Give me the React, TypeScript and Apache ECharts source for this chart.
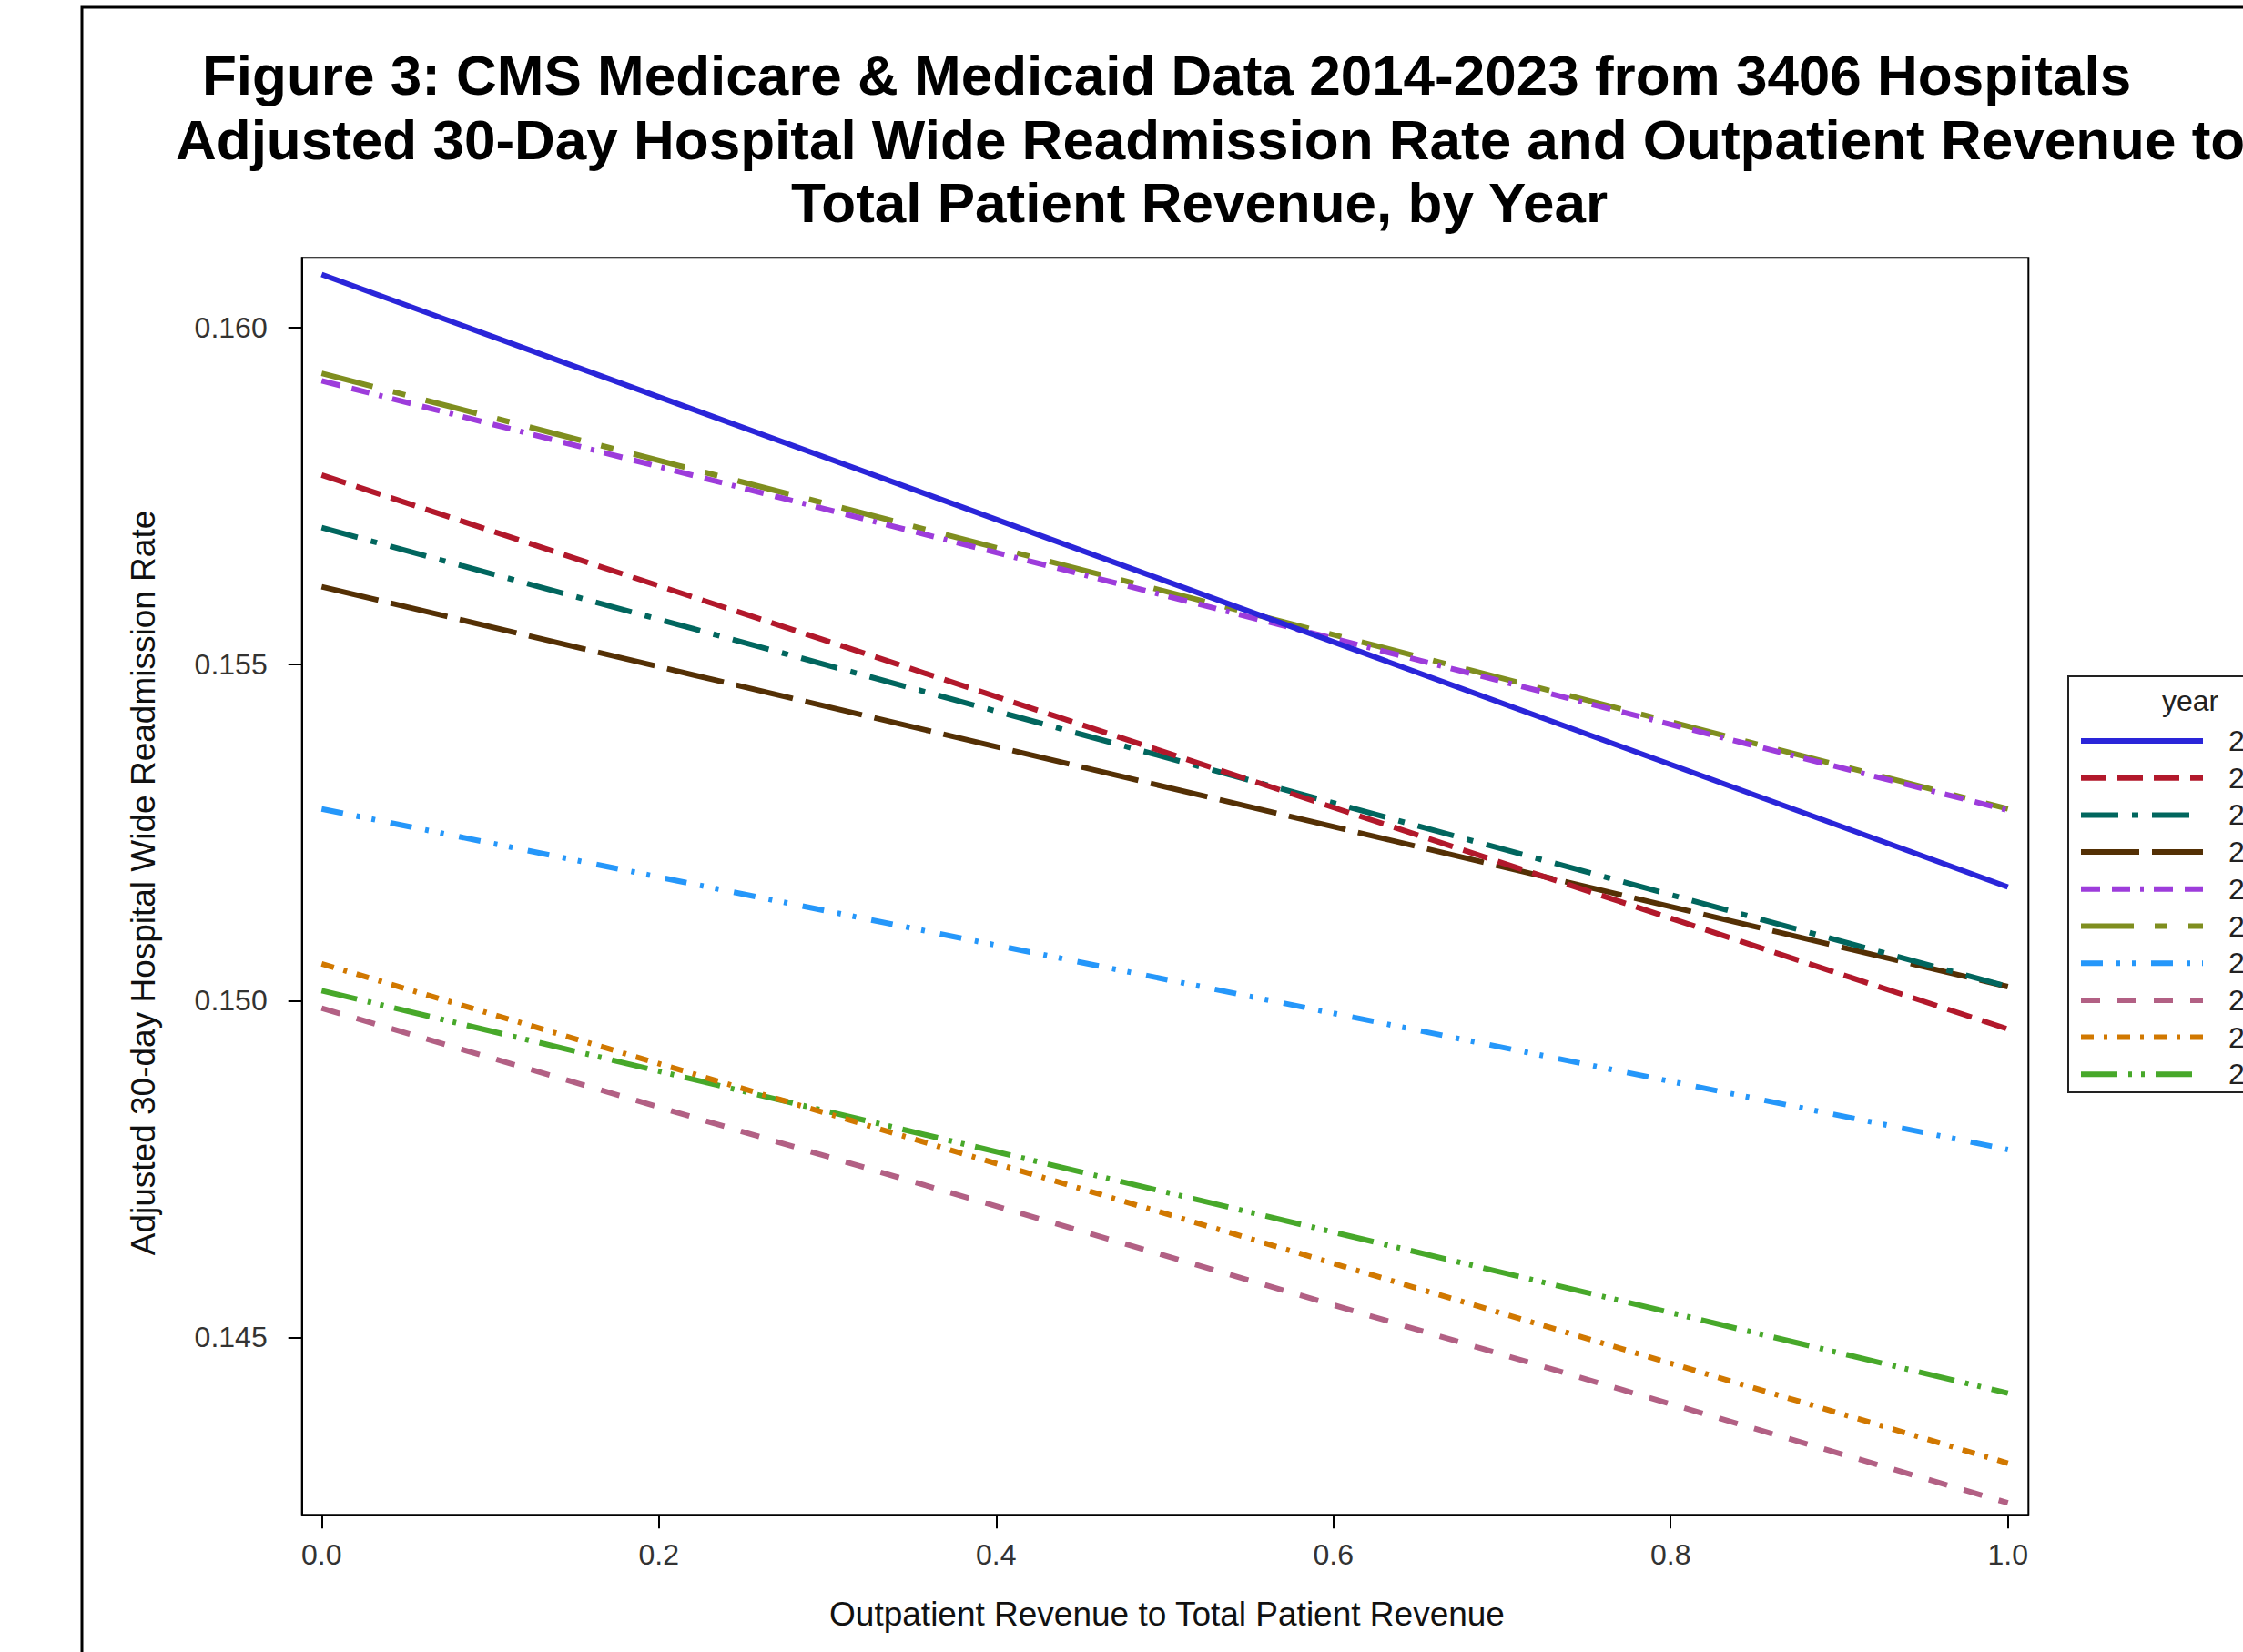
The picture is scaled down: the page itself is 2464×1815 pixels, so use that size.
import React, { useEffect, useRef } from "react";
import * as echarts from "echarts";

const years = ["2014", "2015", "2016", "2017", "2018", "2019", "2020", "2021", "2022", "2023"];
const xValues = [0, 1];
const rateAtZero = [0.16079, 0.15781, 0.15703, 0.15615, 0.15921, 0.15932, 0.15285, 0.14989, 0.15055, 0.15015];
const rateAtOne = [0.15169, 0.14958, 0.15021, 0.15021, 0.15283, 0.15285, 0.14779, 0.14254, 0.14313, 0.14417];
const colors = ["#2A25D9", "#B2182B", "#01665E", "#543005", "#9D3CDB", "#7F8E1F", "#2597FA", "#B26084", "#D17800", "#47A82A"];
const dashes: (number[] | null)[] = [
  null,
  [28, 12],
  [41, 15, 7, 15],
  [64, 14],
  [21, 13, 20, 11, 4, 11],
  [58, 23, 14, 23],
  [24, 15, 4, 13, 4, 17],
  [21, 19],
  [14, 11, 4, 11],
  [40, 12, 4, 10, 4, 12],
];
const xTicks = [0, 0.2, 0.4, 0.6, 0.8, 1.0];
const yTicks = [0.145, 0.15, 0.155, 0.16];

const titleLines = [
  "Figure 3: CMS Medicare & Medicaid Data 2014-2023 from 3406 Hospitals",
  "Adjusted 30-Day Hospital Wide Readmission Rate and Outpatient Revenue to",
  "Total Patient Revenue, by Year",
];
const xTitle = "Outpatient Revenue to Total Patient Revenue";
const yTitle = "Adjusted 30-day Hospital Wide Readmission Rate";
const legendTitle = "year";

const FONT = "'Liberation Sans', Arial, sans-serif";

export default function App() {
  const ref = useRef<HTMLDivElement>(null);
  useEffect(() => {
    if (!ref.current) return;
    const chart = echarts.init(ref.current, null, { renderer: "svg" });

    const series = years.map((y, i) => ({
      name: y,
      type: "line",
      data: xValues.map((x, k) => [x, k === 0 ? rateAtZero[i] : rateAtOne[i]]),
      symbol: "none",
      showSymbol: false,
      z: 10 - i,
      lineStyle: {
        color: colors[i],
        width: 6,
        type: dashes[i] ? dashes[i] : "solid",
        cap: "butt",
      },
      emphasis: { disabled: true },
    }));

    const titleX = [222, 193, 869];
    const titleY = [82, 153, 222];
    const graphics: any[] = [
      {
        type: "rect",
        shape: { x: 90, y: 8, width: 2600, height: 2000 },
        style: { fill: "none", stroke: "#000", lineWidth: 3 },
        silent: true,
      },
      ...titleLines.map((t, i) => ({
        type: "text",
        x: titleX[i],
        y: titleY[i],
        style: {
          text: t,
          font: `bold 62px ${FONT}`,
          fill: "#000",
          textAlign: "left",
          textVerticalAlign: "middle",
        },
      })),
      {
        type: "text",
        x: 1282,
        y: 1773,
        style: { text: xTitle, font: `37px ${FONT}`, fill: "#111", textAlign: "center", textVerticalAlign: "middle" },
      },
      {
        type: "text",
        x: 157,
        y: 970,
        rotation: Math.PI / 2,
        style: { text: yTitle, font: `37px ${FONT}`, fill: "#111", textAlign: "center", textVerticalAlign: "middle" },
      },
      {
        type: "rect",
        shape: { x: 2272, y: 743, width: 400, height: 457 },
        style: { fill: "#fff", stroke: "#222", lineWidth: 2 },
        z: 20,
      },
      {
        type: "text",
        x: 2406,
        y: 770,
        z: 21,
        style: { text: legendTitle, font: `32px ${FONT}`, fill: "#222", textAlign: "center", textVerticalAlign: "middle" },
      },
    ];
    years.forEach((y, i) => {
      const yy = 814 + 40.7 * i;
      graphics.push({
        type: "line",
        z: 21,
        shape: { x1: 2286, y1: yy, x2: 2420, y2: yy },
        style: { stroke: colors[i], lineWidth: 6, lineDash: dashes[i] || undefined },
      });
      graphics.push({
        type: "text",
        z: 21,
        x: 2448,
        y: yy,
        style: { text: y, font: `32px ${FONT}`, fill: "#222", textAlign: "left", textVerticalAlign: "middle" },
      });
    });

    chart.setOption({
      animation: false,
      backgroundColor: "#fff",
      grid: {
        left: 331.7,
        top: 283.3,
        width: 1896.6,
        height: 1381,
        show: true,
        borderColor: "#000",
        borderWidth: 2,
        containLabel: false,
      },
      xAxis: {
        type: "value",
        min: -0.01166,
        max: 1.0122,
        splitLine: { show: false },
        axisLine: { show: true, onZero: false, lineStyle: { color: "#000", width: 2 } },
        axisTick: { show: true, length: 15, lineStyle: { color: "#000", width: 2 }, customValues: xTicks },
        axisLabel: {
          customValues: xTicks,
          formatter: (v: number) => v.toFixed(1),
          margin: 28,
          fontSize: 32,
          fontFamily: FONT,
          color: "#333",
        },
      },
      yAxis: {
        type: "value",
        min: 0.142363,
        max: 0.161036,
        splitLine: { show: false },
        axisLine: { show: true, onZero: false, lineStyle: { color: "#000", width: 2 } },
        axisTick: { show: true, length: 15, lineStyle: { color: "#000", width: 2 }, customValues: yTicks },
        axisLabel: {
          customValues: yTicks,
          formatter: (v: number) => v.toFixed(3),
          margin: 38,
          fontSize: 32,
          fontFamily: FONT,
          color: "#333",
        },
      },
      series,
      graphic: graphics,
    });
    return () => chart.dispose();
  }, []);
  return (
    <div
      ref={ref}
      style={{ position: "absolute", left: 0, top: 0, width: 2464, height: 1815, background: "#fff" }}
    />
  );
}
